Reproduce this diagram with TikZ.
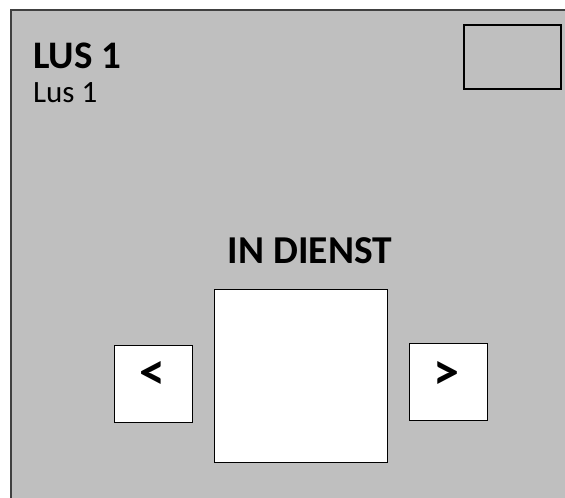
\documentclass[tikz,border=0pt]{standalone}
\usepackage{fontspec}
\setmainfont{Carlito}
\usetikzlibrary{positioning}

\begin{document}
\begin{tikzpicture}
  [x=1pt,y=-1pt,
  screen/.style={draw=black!75,fill=black!25,line width=2pt},
  label text/.style={anchor=base west,inner sep=0pt},
  display/.style={rectangle,draw=black,fill=white,line width=1pt,
                  inner sep=0pt,minimum size=173pt},
  pad/.style={rectangle,draw=black,fill=white,line width=1pt,
              inner sep=0pt,minimum width=78pt,minimum height=77pt},
  glyph/.style={inner sep=0pt,font=\bfseries\fontsize{52}{56}\selectfont},
  badge/.style={rectangle,draw=black,line width=2.5pt,
                inner sep=0pt,minimum width=97pt,minimum height=64pt}]
  \useasboundingbox (0,0) rectangle (565,498);
  \clip (0,0) rectangle (565,498);
  \draw[screen] (11,10) rectangle (580,510);

  \node[label text,font=\bfseries\fontsize{39}{42}\selectfont] (title) at (33,68) {LUS 1};
  \node[label text,font=\fontsize{31}{34}\selectfont] (subtitle) at (33,102) {Lus 1};
  \node[badge] (logo) at (512.5,57) {};

  \node[display] (display) at (300.5,375.5) {};
  \node[anchor=base,inner sep=0pt,font=\bfseries\fontsize{39.5}{42}\selectfont]
       (state) at (310,263) {IN DIENST};
  \node[pad] (prev) [left=21pt of display,yshift=-8pt]  {};
  \node[pad] (next) [right=21pt of display,yshift=-6pt] {};
  \node[glyph] (prev sign) at ([xshift=-1pt,yshift=8pt]prev.center) {<};
  \node[glyph] (next sign) at ([xshift=-2pt,yshift=6pt]next.center) {>};
\end{tikzpicture}
\end{document}
